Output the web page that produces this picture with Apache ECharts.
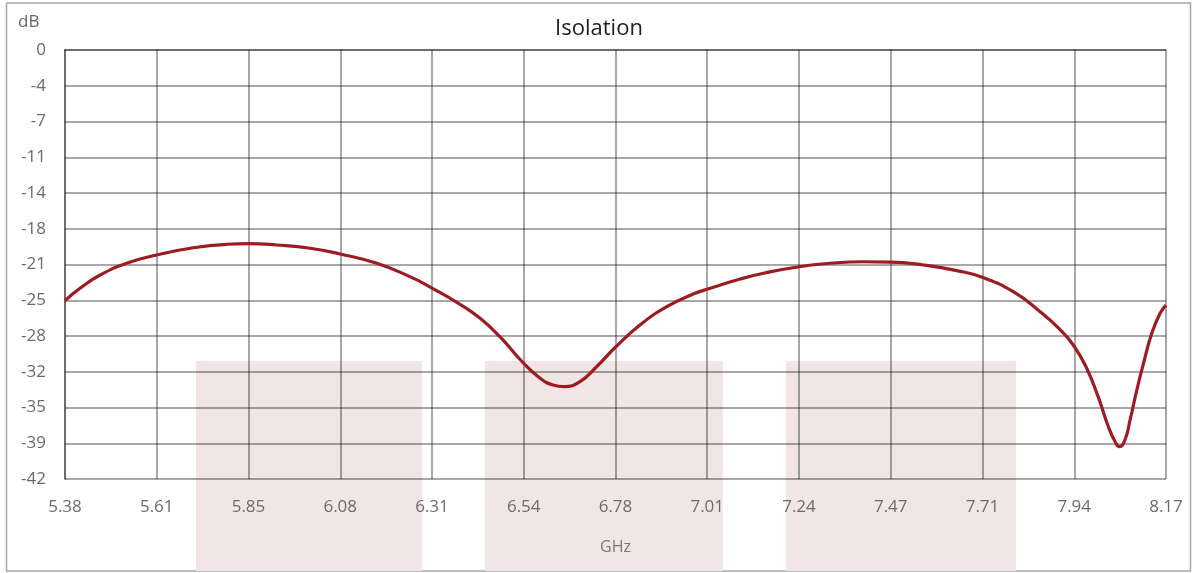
<!DOCTYPE html>
<html>
<head>
<meta charset="utf-8">
<script src="https://cdn.jsdelivr.net/npm/echarts@6/dist/echarts.min.js"></script>
<style>
html,body{margin:0;padding:0;background:#fff;}
#chart{width:1198px;height:573px;}
</style>
</head>
<body>
<div id="chart"></div>
<script>
// ---- data ----
const X0 = 5.38;            // GHz at left edge of the axis
const X_STEP = 0.2325;      // GHz per gridline
const xTickLabels = ['5.38','5.61','5.85','6.08','6.31','6.54','6.78','7.01','7.24','7.47','7.71','7.94','8.17'];
const yTickLabels = ['0','-4','-7','-11','-14','-18','-21','-25','-28','-32','-35','-39','-42'];
const freqGHz = [5.380,5.418,5.469,5.536,5.612,5.705,5.790,5.846,5.916,6.001,6.077,6.170,6.254,6.311,6.377,6.432,6.482,6.541,6.584,6.617,6.645,6.685,6.727,6.776,6.837,6.905,6.972,7.009,7.091,7.150,7.240,7.319,7.403,7.472,7.555,7.640,7.704,7.783,7.851,7.901,7.938,7.969,7.998,8.024,8.041,8.052,8.066,8.079,8.096,8.113,8.134,8.155,8.170];
const isolationDb = [-24.54,-23.33,-22.03,-20.88,-20.07,-19.36,-19.02,-18.96,-19.09,-19.41,-19.97,-20.88,-22.19,-23.33,-24.80,-26.27,-28.07,-30.62,-32.14,-32.80,-32.96,-32.47,-31.01,-29.05,-26.92,-25.13,-23.89,-23.40,-22.42,-21.86,-21.22,-20.88,-20.73,-20.76,-21.05,-21.60,-22.25,-23.66,-25.62,-27.35,-29.05,-31.16,-33.94,-36.88,-38.35,-38.84,-38.18,-36.22,-33.29,-30.67,-27.74,-25.78,-24.97];
const bandStartGHz = [5.712, 6.444, 7.207];
const bandEndGHz   = [6.285, 7.047, 7.790];
const bandTopDb    = [-30.45, -30.45, -30.45];
const bandBottomDb = -51;

// ---- build ----
const lineData = freqGHz.map((f, i) => [f - X0, isolationDb[i]]);
const bandData = bandStartGHz.map((s, i) => [s - X0, bandEndGHz[i] - X0, bandTopDb[i]]);

const FONT = '"Open Sans", "Noto Sans", sans-serif';
const GRID_LINE = { color: 'rgba(0,0,0,0.34)', width: 2 };
const chart = echarts.init(document.getElementById('chart'));
chart.setOption({
  animation: false,
  backgroundColor: '#fff',
  graphic: [{
    type: 'rect', silent: true, z: 0,
    shape: { x: 6.5, y: 3, width: 1184, height: 568 },
    style: { fill: 'none', stroke: '#A6A6A6', lineWidth: 1.5 }
  }],
  title: [
    { text: 'Isolation', left: 'center', top: 13,
      textStyle: { fontFamily: FONT, fontSize: 22, fontWeight: 'normal', color: '#222' } },
    { text: 'dB', left: 13, top: 9,
      textStyle: { fontFamily: FONT, fontSize: 17, fontWeight: 'normal', color: '#666' } }
  ],
  grid: { left: 65, right: 32, top: 50, bottom: 94, containLabel: false },
  xAxis: {
    type: 'value', min: 0, max: 2.79, interval: X_STEP, z: 5,
    name: 'GHz', nameLocation: 'middle', nameGap: 60,
    nameTextStyle: { fontFamily: FONT, fontSize: 16, color: '#777' },
    axisLine: { lineStyle: GRID_LINE },
    axisTick: { show: false },
    splitLine: { show: true, lineStyle: GRID_LINE },
    axisLabel: {
      margin: 20, fontFamily: FONT, fontSize: 17, color: '#6b6b6b',
      formatter: v => xTickLabels[Math.round(v / X_STEP)] || ''
    }
  },
  yAxis: {
    type: 'value', min: -42, max: 0, interval: 3.5, z: 5,
    axisLine: { show: true, lineStyle: GRID_LINE },
    axisTick: { show: false },
    splitLine: { show: true, lineStyle: GRID_LINE },
    axisLabel: {
      margin: 19, fontFamily: FONT, fontSize: 17, color: '#6b6b6b',
      formatter: v => yTickLabels[Math.round(-v / 3.5)] || ''
    }
  },
  series: [
    {
      type: 'custom', z: 1, clip: false, silent: true,
      encode: { x: [0, 1], y: 2 },
      data: bandData,
      renderItem: function (params, api) {
        const p1 = api.coord([api.value(0), api.value(2)]);
        const p2 = api.coord([api.value(1), bandBottomDb]);
        return {
          type: 'rect',
          shape: { x: p1[0], y: p1[1], width: p2[0] - p1[0], height: p2[1] - p1[1] },
          style: { fill: '#F2E5E6' }
        };
      }
    },
    {
      type: 'line', z: 10, data: lineData, smooth: 0.5,
      showSymbol: false, symbol: 'none',
      lineStyle: { color: '#9C1C22', width: 3.2 }
    }
  ]
});
</script>
</body>
</html>
